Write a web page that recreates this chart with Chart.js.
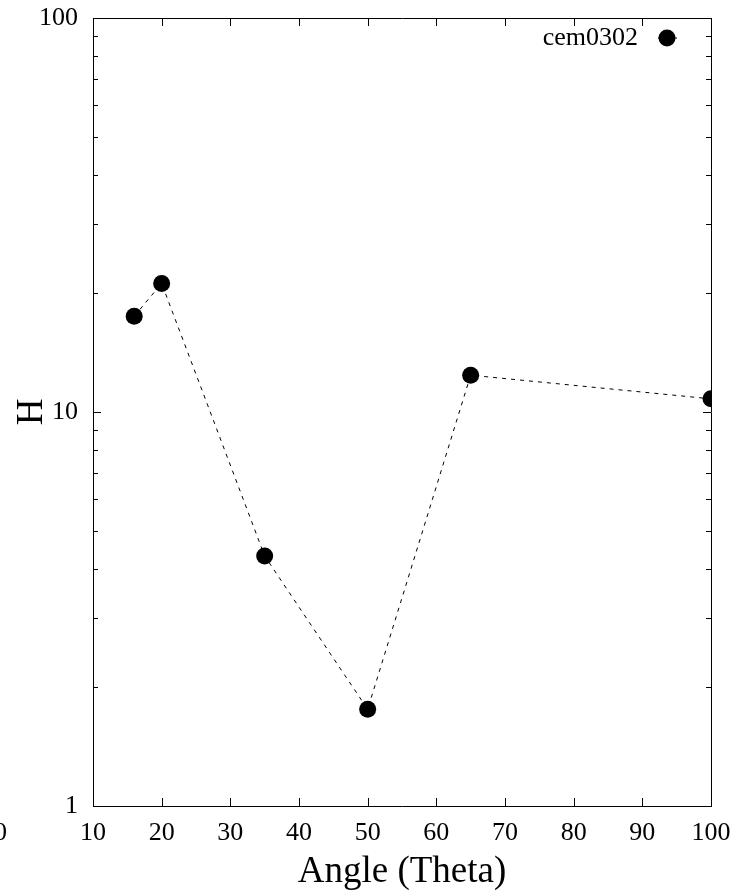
<!DOCTYPE html>
<html lang="en">
<head>
  <meta charset="UTF-8" />
  <title>cem0302</title>
  <script src="https://cdn.jsdelivr.net/npm/chart.js"></script>
  <style>
    html, body { margin: 0; padding: 0; background: #fff; }
    #wrap { width: 751px; height: 894px; }
  </style>
</head>
<body>
  <div id="wrap"><canvas id="chart" width="751" height="894"></canvas></div>
  <script>
    const seriesName = "cem0302";
    const angles = [16, 20, 35, 50, 65, 100];
    const hValues = [17.5, 21.2, 4.31, 1.76, 12.4, 10.8];
    const xTicks = [10, 20, 30, 40, 50, 60, 70, 80, 90, 100];
    const yTicks = [1, 10, 100];
    const yMinor = [2, 3, 4, 5, 6, 7, 8, 9, 20, 30, 40, 50, 60, 70, 80, 90];

    const serif = "'Liberation Serif', 'DejaVu Serif', serif";

    // gnuplot style: inward ticks on all four sides, key in top right
    const frameTicks = {
      id: "frameTicks",
      afterDraw(chart) {
        const { ctx, chartArea: a, scales } = chart;
        ctx.save();
        ctx.strokeStyle = "#000";
        ctx.lineWidth = 1;
        ctx.beginPath();
        xTicks.forEach(v => {
          const px = Math.round(scales.x.getPixelForValue(v)) + 0.5;
          ctx.moveTo(px, a.bottom); ctx.lineTo(px, a.bottom - 8);
          ctx.moveTo(px, a.top); ctx.lineTo(px, a.top + 8);
        });
        yTicks.forEach(v => {
          const py = Math.round(scales.y.getPixelForValue(v)) + 0.5;
          ctx.moveTo(a.left, py); ctx.lineTo(a.left + 8, py);
          ctx.moveTo(a.right, py); ctx.lineTo(a.right - 8, py);
        });
        yMinor.forEach(v => {
          const py = Math.round(scales.y.getPixelForValue(v)) + 0.5;
          ctx.moveTo(a.left, py); ctx.lineTo(a.left + 5, py);
          ctx.moveTo(a.right, py); ctx.lineTo(a.right - 5, py);
        });
        ctx.stroke();

        // key
        const ky = a.top + 20;
        ctx.font = "26px " + serif;
        ctx.fillStyle = "#000";
        ctx.textAlign = "right";
        ctx.textBaseline = "middle";
        ctx.fillText(seriesName, a.right - 73, ky);
        ctx.beginPath();
        ctx.moveTo(a.right - 53, ky); ctx.lineTo(a.right - 34, ky);
        ctx.stroke();
        ctx.beginPath();
        ctx.arc(a.right - 44, ky, 8.5, 0, Math.PI * 2);
        ctx.fill();

        // clipped label at the left edge
        ctx.font = "26px " + serif;
        ctx.textAlign = "right";
        ctx.fillText("10", 7, 833);
        ctx.restore();
      }
    };

    new Chart(document.getElementById("chart"), {
      type: "scatter",
      data: {
        datasets: [{
          label: seriesName,
          data: angles.map((x, i) => ({ x: x, y: hValues[i] })),
          showLine: true,
          borderColor: "#000",
          borderWidth: 1,
          borderDash: [4, 5],
          backgroundColor: "#000",
          pointRadius: 8.5,
          pointBorderWidth: 0,
          pointHoverRadius: 8.5
        }]
      },
      options: {
        responsive: false,
        animation: false,
        layout: { padding: { top: 18, right: 40, bottom: 0, left: 0 } },
        plugins: { legend: { display: false }, tooltip: { enabled: false } },
        scales: {
          x: {
            type: "linear",
            min: 10,
            max: 100,
            afterBuildTicks: s => { s.ticks = xTicks.map(v => ({ value: v })); },
            afterFit: s => { s.height = 88; s.paddingLeft = 0; s.paddingRight = 0; },
            grid: { display: false, drawTicks: false },
            border: { display: true, color: "#000", width: 1 },
            ticks: { color: "#000", padding: 12, font: { family: serif, size: 26 } },
            title: { display: true, text: "Angle (Theta)", color: "#000", padding: 0, font: { family: serif, size: 37 } }
          },
          y: {
            type: "logarithmic",
            min: 1,
            max: 100,
            afterBuildTicks: s => { s.ticks = yTicks.map(v => ({ value: v })); },
            afterFit: s => { s.width = 93; s.paddingTop = 0; s.paddingBottom = 0; },
            grid: { display: false, drawTicks: false },
            border: { display: true, color: "#000", width: 1 },
            ticks: { color: "#000", padding: 15, font: { family: serif, size: 26 }, callback: v => String(v) },
            title: { display: true, text: "H", color: "#000", padding: 10, font: { family: serif, size: 37 } }
          },
          x2: { position: "top", type: "linear", min: 10, max: 100, display: true,
                grid: { display: false, drawTicks: false }, ticks: { display: false },
                border: { display: true, color: "#000", width: 1 },
                afterFit: s => { s.height = 0; s.paddingLeft = 0; s.paddingRight = 0; } },
          y2: { position: "right", type: "logarithmic", min: 1, max: 100, display: true,
                grid: { display: false, drawTicks: false }, ticks: { display: false },
                border: { display: true, color: "#000", width: 1 },
                afterFit: s => { s.width = 0; s.paddingTop = 0; s.paddingBottom = 0; } }
        }
      },
      plugins: [frameTicks]
    });
  </script>
</body>
</html>
